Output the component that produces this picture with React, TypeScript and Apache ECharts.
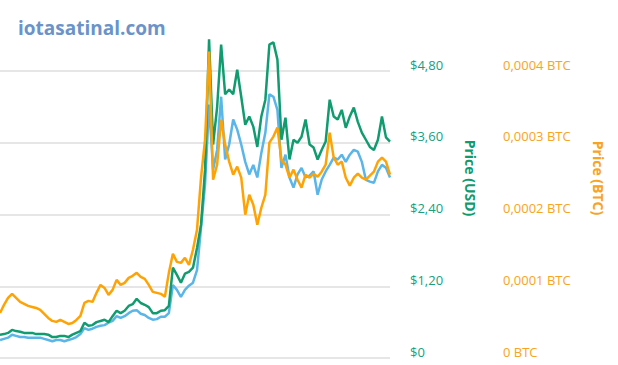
import React, { useEffect, useRef } from "react";
import * as echarts from "echarts";

const usdTicks = ["$0", "$1,20", "$2,40", "$3,60", "$4,80"];
const btcTicks = ["0 BTC", "0,0001 BTC", "0,0002 BTC", "0,0003 BTC", "0,0004 BTC"];

const priceUsd = [
  0.39, 0.40, 0.42, 0.47, 0.45, 0.44, 0.42, 0.42, 0.42, 0.40, 0.40, 0.40, 0.39, 0.35, 0.35, 0.37,
  0.37, 0.35, 0.39, 0.42, 0.45, 0.59, 0.54, 0.55, 0.60, 0.62, 0.64, 0.60, 0.70, 0.79, 0.75, 0.79,
  0.87, 0.90, 0.99, 0.92, 0.89, 0.85, 0.75, 0.75, 0.79, 0.80, 0.87, 1.51, 1.39, 1.26, 1.41, 1.44,
  1.51, 1.84, 2.23, 3.15, 5.33, 3.57, 4.19, 5.24, 4.41, 4.49, 4.41, 4.82, 4.37, 3.90, 4.04, 3.87,
  3.53, 4.04, 4.32, 5.24, 5.28, 4.99, 3.65, 4.02, 3.32, 3.65, 3.60, 3.70, 3.99, 3.57, 3.52, 3.32,
  3.48, 3.62, 4.32, 4.04, 3.99, 4.15, 3.85, 4.04, 4.19, 3.95, 3.77, 3.65, 3.53, 3.48, 3.65, 4.04,
  3.69, 3.62,
];

const priceEur = [
  0.30, 0.32, 0.34, 0.39, 0.37, 0.35, 0.35, 0.34, 0.34, 0.34, 0.34, 0.32, 0.30, 0.28, 0.30, 0.30,
  0.28, 0.30, 0.32, 0.35, 0.40, 0.50, 0.47, 0.49, 0.52, 0.54, 0.55, 0.59, 0.62, 0.70, 0.67, 0.70,
  0.75, 0.79, 0.80, 0.74, 0.72, 0.67, 0.64, 0.65, 0.69, 0.69, 0.75, 1.22, 1.14, 1.02, 1.14, 1.21,
  1.26, 1.47, 2.18, 2.90, 4.24, 3.15, 3.48, 4.37, 3.32, 3.57, 3.99, 3.82, 3.57, 3.28, 3.07, 3.23,
  3.02, 3.43, 3.77, 4.41, 4.37, 4.15, 3.18, 3.40, 3.02, 2.85, 3.07, 3.18, 3.02, 3.05, 3.12, 2.73,
  2.98, 3.12, 3.23, 3.35, 3.32, 3.40, 3.28, 3.40, 3.48, 3.45, 3.28, 2.98, 2.95, 2.93, 3.12, 3.23,
  3.18, 3.02,
];

const priceBtc = [
  0.0000628, 0.0000740, 0.0000838, 0.0000894, 0.0000838, 0.0000782, 0.0000754, 0.0000726,
  0.0000712, 0.0000698, 0.0000670, 0.0000614, 0.0000558, 0.0000517, 0.0000503, 0.0000531,
  0.0000503, 0.0000475, 0.0000489, 0.0000531, 0.0000586, 0.0000768, 0.0000796, 0.0000782,
  0.0000908, 0.0001019, 0.0000977, 0.0000880, 0.0000949, 0.0001089, 0.0001019, 0.0001047,
  0.0001117, 0.0001145, 0.0001187, 0.0001131, 0.0001103, 0.0001019, 0.0000922, 0.0000908,
  0.0000894, 0.0000852, 0.0001187, 0.0001452, 0.0001340, 0.0001326, 0.0001396, 0.0001298,
  0.0001508, 0.0001787, 0.0002513, 0.0003044, 0.0004272, 0.0002485, 0.0002695, 0.0003323,
  0.0002974, 0.0002737, 0.0002555, 0.0002667, 0.0002513, 0.0001997, 0.0002276, 0.0002136,
  0.0001857, 0.0002094, 0.0002276, 0.0003002, 0.0003086, 0.0003211, 0.0002765, 0.0002695,
  0.0002513, 0.0002625, 0.0002485, 0.0002374, 0.0002555, 0.0002513, 0.0002569, 0.0002527,
  0.0002597, 0.0002695, 0.0003141, 0.0002792, 0.0002695, 0.0002737, 0.0002513, 0.0002402,
  0.0002513, 0.0002569, 0.0002513, 0.0002485, 0.0002541, 0.0002597, 0.0002737, 0.0002792,
  0.0002737, 0.0002555,
];

const days = priceUsd.map((_, i) => String(i + 1));

export default function App() {
  const ref = useRef<HTMLDivElement>(null);
  useEffect(() => {
    if (!ref.current) return;
    const chart = echarts.init(ref.current, undefined, { renderer: "svg" });
    const font = "'Open Sans', 'Noto Sans', sans-serif";
    chart.setOption({
      animation: false,
      backgroundColor: "#ffffff",
      grid: { left: 0, right: 228, top: 71, bottom: 7, containLabel: false },
      xAxis: {
        type: "category",
        data: days,
        boundaryGap: false,
        show: false,
      },
      yAxis: [
        {
          type: "value",
          position: "right",
          min: 0,
          max: 4.8,
          interval: 1.2,
          axisLine: { show: false },
          axisTick: { show: false },
          splitLine: { lineStyle: { color: "#e6e6e6", width: 2 } },
          axisLabel: {
            margin: 20,
            color: "#17a080",
            fontFamily: font,
            fontSize: 13,
            verticalAlign: "bottom",
            formatter: (v: number) => usdTicks[Math.round(v / 1.2)] ?? "",
          },
        },
        {
          type: "value",
          position: "right",
          offset: 93,
          min: 0,
          max: 0.0004,
          interval: 0.0001,
          axisLine: { show: false },
          axisTick: { show: false },
          splitLine: { show: false },
          axisLabel: {
            margin: 20,
            color: "#f9a31e",
            fontFamily: font,
            fontSize: 13,
            verticalAlign: "bottom",
            formatter: (v: number) => btcTicks[Math.round(v / 0.0001)] ?? "",
          },
        },
      ],
      graphic: [
        {
          type: "text",
          left: 18,
          top: 18,
          style: {
            text: "iotasatinal.com",
            fill: "#6b93c9",
            font: `bold 19px ${font}`,
          },
        },
        {
          type: "text",
          x: 470,
          y: 178,
          rotation: -Math.PI / 2,
          style: {
            text: "Price (USD)",
            fill: "#0f9b6e",
            font: `bold 14px ${font}`,
            align: "center",
            verticalAlign: "middle",
          },
        },
        {
          type: "text",
          x: 598,
          y: 178,
          rotation: -Math.PI / 2,
          style: {
            text: "Price (BTC)",
            fill: "#f9a31e",
            font: `bold 14px ${font}`,
            align: "center",
            verticalAlign: "middle",
          },
        },
      ],
      series: [
        {
          name: "Price (EUR)",
          type: "line",
          yAxisIndex: 0,
          data: priceEur,
          showSymbol: false,
          clip: false,
          lineStyle: { color: "#5ab5e8", width: 2.5 },
          itemStyle: { color: "#5ab5e8" },
        },
        {
          name: "Price (USD)",
          type: "line",
          yAxisIndex: 0,
          data: priceUsd,
          showSymbol: false,
          clip: false,
          lineStyle: { color: "#119c70", width: 2.5 },
          itemStyle: { color: "#119c70" },
        },
        {
          name: "Price (BTC)",
          type: "line",
          yAxisIndex: 1,
          data: priceBtc,
          showSymbol: false,
          clip: false,
          lineStyle: { color: "#ffa305", width: 2.5 },
          itemStyle: { color: "#ffa305" },
        },
      ],
    });
    return () => chart.dispose();
  }, []);
  return (
    <div
      ref={ref}
      style={{ position: "fixed", left: 0, top: 0, width: 618, height: 365 }}
    />
  );
}
